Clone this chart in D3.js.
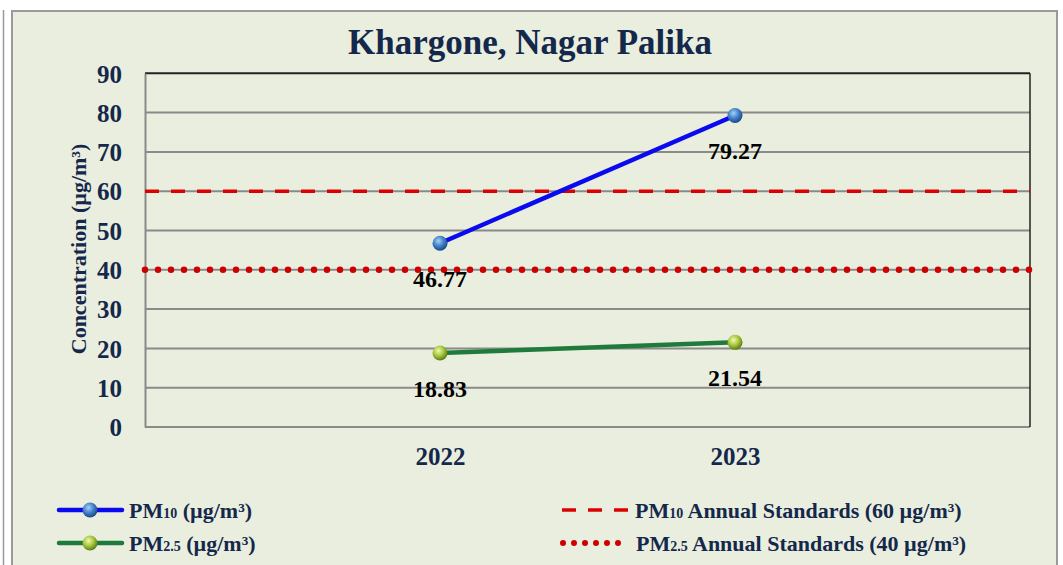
<!DOCTYPE html>
<html><head><meta charset="utf-8">
<script src="https://cdn.jsdelivr.net/npm/d3@7"></script>
<style>body{margin:0;background:#fff;} text{font-family:"Liberation Serif","Times New Roman",serif;font-weight:bold;}</style>
</head><body>
<svg id="c" width="1063" height="565"></svg>
<script>
const categories = ["", "2022", "2023", " "];
const years = ["2022", "2023"];
const pm10 = [46.77, 79.27];
const pm25 = [18.83, 21.54];
const pm10Std = 60;
const pm25Std = 40;
const yTicks = [0,10,20,30,40,50,60,70,80,90];

const svg = d3.select("#c");
const navy = "#14284B";
const defs = svg.append("defs");
function sphere(id, light, mid, dark){
  const g = defs.append("radialGradient").attr("id", id).attr("cx","40%").attr("cy","35%").attr("r","65%");
  g.append("stop").attr("offset","0%").attr("stop-color", light);
  g.append("stop").attr("offset","55%").attr("stop-color", mid);
  g.append("stop").attr("offset","100%").attr("stop-color", dark);
}
sphere("gBlue", "#A9D0F5", "#3F7FC8", "#1B4A86");
sphere("gGreen", "#F2F9B5", "#A5C53A", "#5E7A16");

svg.append("line").attr("x1",3.5).attr("x2",3.5).attr("y1",10).attr("y2",565).attr("stroke","#999").attr("stroke-width",1.5);
svg.append("rect").attr("x",12).attr("y",11).attr("width",1045).attr("height",570)
  .attr("fill","#EAEEDE").attr("stroke","#9a9a9a").attr("stroke-width",2);

const x = d3.scalePoint().domain(categories).range([145, 1030]);
const y = d3.scaleLinear().domain([0, 90]).range([427, 73.3]);

svg.append("g").selectAll("line").data(yTicks).join("line")
  .attr("x1",145).attr("x2",1030).attr("y1",d=>y(d)).attr("y2",d=>y(d))
  .attr("stroke", d=> d===90 ? "#222" : "#8a8a8a").attr("stroke-width",2);
svg.append("line").attr("x1",1030).attr("x2",1030).attr("y1",y(90)).attr("y2",y(0)).attr("stroke","#222").attr("stroke-width",1.5);
const yAxis = svg.append("g").attr("transform","translate(145,0)")
  .call(d3.axisLeft(y).tickValues(yTicks).tickSize(0).tickPadding(23));
yAxis.select(".domain").attr("stroke","#8a8a8a").attr("stroke-width",2);
yAxis.selectAll("text").attr("font-size",25).attr("fill",navy).attr("font-family","Liberation Serif").attr("font-weight","bold").attr("dy","0.35em");

const xAxis = svg.append("g").attr("transform","translate(0,427)")
  .call(d3.axisBottom(x).tickValues(years).tickSize(0).tickPadding(20));
xAxis.select(".domain").remove();
xAxis.selectAll("text").attr("font-size",25).attr("fill",navy).attr("font-family","Liberation Serif").attr("font-weight","bold");

svg.append("line").attr("x1",145).attr("x2",1030).attr("y1",y(pm10Std)).attr("y2",y(pm10Std))
  .attr("stroke","#DD0000").attr("stroke-width",3.5).attr("stroke-dasharray","14,12");
svg.append("line").attr("x1",145).attr("x2",1030).attr("y1",y(pm25Std)).attr("y2",y(pm25Std))
  .attr("stroke","#CC0000").attr("stroke-width",6.5).attr("stroke-linecap","round").attr("stroke-dasharray","0,13");

const line = d3.line().x((d,i)=>x(years[i])).y(d=>y(d));
svg.append("path").datum(pm10).attr("d",line).attr("fill","none").attr("stroke","#0A0AEE").attr("stroke-width",4.5);
svg.append("path").datum(pm25).attr("d",line).attr("fill","none").attr("stroke","#1E7B3C").attr("stroke-width",4.5);
svg.append("g").selectAll("circle").data(pm10).join("circle")
  .attr("cx",(d,i)=>x(years[i])).attr("cy",d=>y(d)).attr("r",7.5).attr("fill","url(#gBlue)");
svg.append("g").selectAll("circle").data(pm25).join("circle")
  .attr("cx",(d,i)=>x(years[i])).attr("cy",d=>y(d)).attr("r",7.5).attr("fill","url(#gGreen)");

function labels(data){
  svg.append("g").selectAll("text").data(data).join("text")
    .attr("x",(d,i)=>x(years[i])).attr("y",d=>y(d)+44)
    .attr("text-anchor","middle").attr("font-size",24).attr("fill","#000")
    .text(d=>d.toFixed(2));
}
labels(pm10); labels(pm25);

svg.append("text").attr("x",530).attr("y",54).attr("text-anchor","middle").attr("font-size",35).attr("fill",navy)
  .text("Khargone, Nagar Palika");
svg.append("text").attr("transform","translate(86,249) rotate(-90)").attr("text-anchor","middle")
  .attr("font-size",22).attr("fill",navy)
  .text("Concentration (µg/m³)");

function legText(g, xx, yy, sub, rest){
  const t = g.append("text").attr("x",xx).attr("y",yy).attr("font-size",22).attr("fill",navy);
  t.append("tspan").text("PM");
  t.append("tspan").attr("font-size",14).text(sub);
  t.append("tspan").text(rest);
}
const lg = svg.append("g");
lg.append("line").attr("x1",59).attr("x2",122).attr("y1",510).attr("y2",510).attr("stroke","#0A0AEE").attr("stroke-width",4.5).attr("stroke-linecap","round");
lg.append("circle").attr("cx",90).attr("cy",510).attr("r",7.5).attr("fill","url(#gBlue)");
legText(lg,129,518,"10"," (µg/m³)");
lg.append("line").attr("x1",59).attr("x2",122).attr("y1",543).attr("y2",543).attr("stroke","#1E7B3C").attr("stroke-width",4.5).attr("stroke-linecap","round");
lg.append("circle").attr("cx",90).attr("cy",543).attr("r",7.5).attr("fill","url(#gGreen)");
legText(lg,129,551,"2.5"," (µg/m³)");
lg.append("line").attr("x1",562).attr("x2",628).attr("y1",510).attr("y2",510).attr("stroke","#DD0000").attr("stroke-width",3.5).attr("stroke-dasharray","14,12");
legText(lg,635,518,"10"," Annual Standards (60 µg/m³)");
lg.append("line").attr("x1",563).attr("x2",620).attr("y1",543).attr("y2",543).attr("stroke","#CC0000").attr("stroke-width",6).attr("stroke-linecap","round").attr("stroke-dasharray","0,11");
legText(lg,636,551,"2.5"," Annual Standards (40 µg/m³)");
</script>
</body></html>
